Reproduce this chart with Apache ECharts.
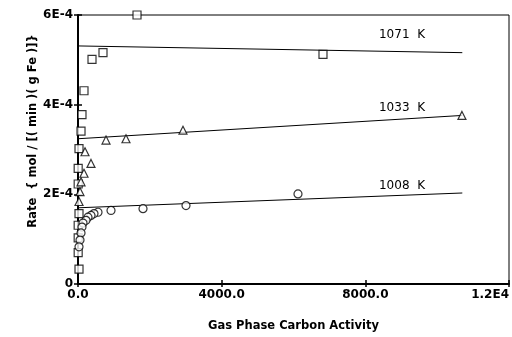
<!DOCTYPE html>
<html><head><meta charset="utf-8">
<script src="https://cdn.jsdelivr.net/npm/echarts@6/dist/echarts.min.js"></script>
<style>html,body{margin:0;padding:0;background:#fff}#c{width:512px;height:337px}</style>
</head><body><div id="c"></div>
<script>
// Data
const xTickLabels = ["0.0", "4000.0", "8000.0", "1.2E4"];
const yTickLabels = ["0", "2E-4", "4E-4", "6E-4"];
const seriesNames = ["1071 K", "1033 K", "1008 K"];

const pts1071 = [[1643,6.0e-4],[390,5.01e-4],[696,5.16e-4],[167,4.31e-4],[111,3.78e-4],[84,3.41e-4],[28,3.02e-4],[5,2.58e-4],[5,2.23e-4],[28,1.57e-4],[5,1.31e-4],[5,1.03e-4],[5,7.0e-5],[28,3.3e-5],[6821,5.12e-4]];
const pts1033 = [[780,3.21e-4],[1336,3.24e-4],[2923,3.43e-4],[10690,3.76e-4],[195,2.95e-4],[362,2.69e-4],[167,2.47e-4],[84,2.28e-4],[56,2.06e-4],[28,1.84e-4]];
const pts1008 = [[3007,1.75e-4],[6125,2.01e-4],[1810,1.68e-4],[919,1.64e-4],[557,1.60e-4],[445,1.57e-4],[362,1.53e-4],[278,1.49e-4],[223,1.42e-4],[139,1.36e-4],[111,1.27e-4],[84,1.14e-4],[56,9.8e-5],[28,8.3e-5]];

const fit1071 = [[0,5.31e-4],[10700,5.16e-4]];
const fit1033 = [[0,3.24e-4],[10700,3.76e-4]];
const fit1008 = [[0,1.70e-4],[10700,2.03e-4]];

const chart = echarts.init(document.getElementById('c'), null, {renderer:'canvas'});
const labelFont = {fontFamily:'DejaVu Sans', fontWeight:'bold', fontSize:12, color:'#000'};
const grid = {left:78, right:3, top:15, bottom:47, show:true, borderColor:'#000', borderWidth:1};
function scat(data, sym){
  return {type:'scatter', data:data, symbol:sym, symbolSize: 8,
    itemStyle:{color:'#fff', borderColor:'#000', borderWidth:1.2}, z:3};
}
function line(data){
  return {type:'line', data:data, symbol:'none', lineStyle:{color:'#000', width:1}, z:2};
}
chart.setOption({
  animation:false,
  grid: grid,
  xAxis:[{
    type:'value', min:0, max:12000, interval:4000,
    axisLine:{show:true, lineStyle:{color:'#000', width:2}},
    axisTick:{show:true, length:3, lineStyle:{color:'#000', width:1.5}},
    splitLine:{show:false},
    axisLabel:Object.assign({margin:5, alignMaxLabel:'right', formatter:(v)=>xTickLabels[Math.round(v/4000)]}, labelFont),
    name:'Gas Phase Carbon Activity', nameLocation:'middle', nameGap:36,
    nameTextStyle:{fontFamily:'DejaVu Sans', fontWeight:'bold', fontSize:11.5, color:'#000'}
  },{
    type:'value', min:0, max:12000, interval:4000, position:'bottom',
    axisLine:{show:false}, axisTick:{show:true, inside:true, length:4, lineStyle:{color:'#000', width:1.5}},
    axisLabel:{show:false}, splitLine:{show:false}
  }],
  yAxis:[{
    type:'value', min:0, max:6e-4, interval:2e-4,
    axisLine:{show:true, lineStyle:{color:'#000', width:2}},
    axisTick:{show:true, length:4, lineStyle:{color:'#000', width:1.5}},
    splitLine:{show:false},
    axisLabel:Object.assign({margin:5, formatter:(v)=>yTickLabels[Math.round(v/2e-4)]}, labelFont)
  },{
    type:'value', min:0, max:6e-4, interval:2e-4, position:'left',
    axisLine:{show:false}, axisTick:{show:true, inside:true, length:4, lineStyle:{color:'#000', width:1.5}},
    axisLabel:{show:false}, splitLine:{show:false}
  }],
  graphic:[
    {type:'text', x:33, y:131, rotation:Math.PI/2, style:{text:'Rate  { mol / [( min )( g Fe )]}', font:'bold 11.5px "DejaVu Sans"', fill:'#000', textAlign:'center', textVerticalAlign:'middle'}},
    {type:'text', x:402, y:35, style:{text:seriesNames[0].replace(' ','  '), font:'12px "DejaVu Sans"', fill:'#000', textAlign:'center', textVerticalAlign:'middle'}},
    {type:'text', x:402, y:108, style:{text:seriesNames[1].replace(' ','  '), font:'12px "DejaVu Sans"', fill:'#000', textAlign:'center', textVerticalAlign:'middle'}},
    {type:'text', x:402, y:186, style:{text:seriesNames[2].replace(' ','  '), font:'12px "DejaVu Sans"', fill:'#000', textAlign:'center', textVerticalAlign:'middle'}}
  ],
  series:[
    line(fit1071), line(fit1033), line(fit1008),
    scat(pts1071,'rect'), scat(pts1033,'triangle'), scat(pts1008,'circle')
  ]
});
</script></body></html>
